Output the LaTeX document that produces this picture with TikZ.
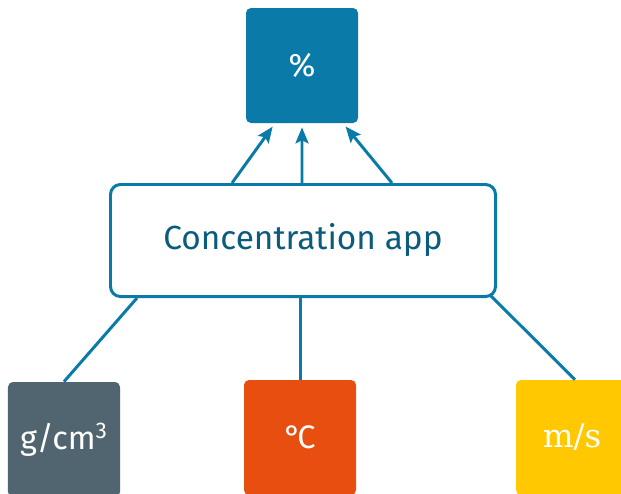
\documentclass[tikz,border=0pt]{standalone}
\usepackage{fontspec}
\setmainfont{Fira Sans}
\newfontfamily\unitserif{DejaVu Serif}
\usetikzlibrary{arrows.meta}

\definecolor{appblue}{HTML}{0A7BA8}
\definecolor{apptext}{HTML}{0B5B7C}
\definecolor{unitgray}{HTML}{506570}
\definecolor{unitorange}{HTML}{E84E0F}
\definecolor{unityellow}{HTML}{FFC800}

\tikzset{
  unitbox/.style={rounded corners=0.1cm, minimum width=2.24cm, minimum height=2.3cm,
    text=white, font=\fontsize{18.5}{20}\selectfont, inner sep=0pt},
  appbox/.style={draw=appblue, line width=1.7pt, fill=white, rounded corners=0.2cm,
    minimum width=7.7cm, minimum height=2.24cm, text=apptext,
    font=\fontsize{19}{20}\selectfont},
  feed/.style={draw=appblue, line width=1.7pt},
  result/.style={feed, -{Stealth[length=0.32cm,width=0.26cm,inset=0.06cm]}, shorten >=0.08cm}
}

\begin{document}
\begin{tikzpicture}
\useasboundingbox (0,0) rectangle (12.42,9.86);

\node[unitbox, fill=appblue] (pct) at (6.04,8.55) {\%};
\node[appbox] (app) at (6.06,5.05) {Concentration app};
\node[unitbox, fill=unitgray] (dens) at (1.28,1.07) {g/cm\textsuperscript{3}};
\node[unitbox, fill=unitorange] (temp) at (6.0,1.11) {°\kern-0.12em C};
\node[unitbox, fill=unityellow, font=\unitserif\fontsize{18.5}{20}\selectfont] (speed) at (11.44,1.11) {m/s};

% app -> result
\draw[result] ([xshift=-1.42cm]app.north) -- ([xshift=-0.54cm]pct.south);
\draw[result] ([xshift=-0.02cm]app.north) -- (pct.south);
\draw[result] ([xshift=1.78cm]app.north) -- ([xshift=0.82cm]pct.south);

% inputs -> app
\draw[feed] (dens.north) -- ([xshift=-3.32cm]app.south);
\draw[feed] (temp.north) -- ([xshift=-0.06cm]app.south);
\draw[feed] ([xshift=0.06cm]speed.north) -- ([xshift=3.74cm,yshift=0.06cm]app.south);
\end{tikzpicture}
\end{document}
